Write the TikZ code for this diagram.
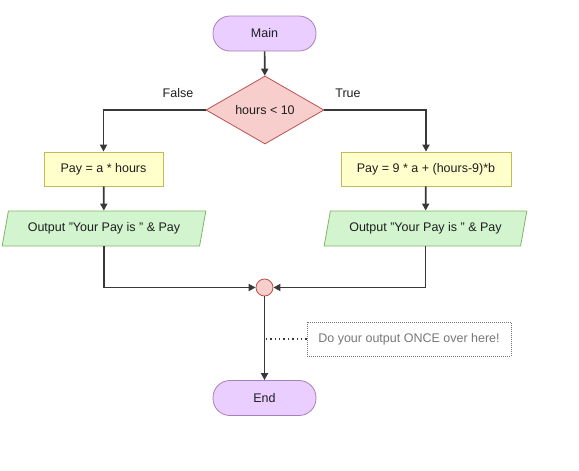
\documentclass[tikz,border=0pt]{standalone}
\usepackage{fontspec}
\setmainfont{Liberation Sans}
\usetikzlibrary{shapes.geometric,arrows.meta}
\definecolor{termfill}{HTML}{EACEFF}
\definecolor{termdraw}{HTML}{A680B8}
\definecolor{decfill}{HTML}{F8CECC}
\definecolor{decdraw}{HTML}{B85450}
\definecolor{procfill}{HTML}{FFFFCC}
\definecolor{procdraw}{HTML}{C8B85A}
\definecolor{iofill}{HTML}{D2F5CF}
\definecolor{iodraw}{HTML}{82B366}
\definecolor{linec}{HTML}{383838}
\definecolor{txt}{HTML}{1E1E1E}
\definecolor{notec}{HTML}{777777}
\tikzset{
  every node/.style={font=\fontsize{12.5}{14}\selectfont, text=txt},
  term/.style={rectangle, rounded corners=17pt, minimum width=103pt, minimum height=35pt, fill=termfill, draw=termdraw, line width=0.8pt},
  dec/.style={diamond, aspect=1.735, inner sep=0pt, minimum width=118pt, minimum height=68pt, fill=decfill, draw=decdraw, line width=0.8pt},
  proc/.style={rectangle, minimum height=34pt, fill=procfill, draw=procdraw, line width=0.8pt},
  io/.style={trapezium, trapezium left angle=66.8, trapezium right angle=113.2, trapezium stretches=true, minimum height=35pt, minimum width=204pt, inner sep=0pt, fill=iofill, draw=iodraw, line width=0.8pt},
  junc/.style={circle, minimum size=17pt, inner sep=0pt, fill=decfill, draw=decdraw, line width=0.8pt},
  note/.style={rectangle, minimum width=204pt, minimum height=34pt, draw=notec, dash pattern=on 1pt off 1pt, line width=0.6pt, text=notec},
  arr/.style={draw=linec, line width=1.7pt, -{Triangle[length=7pt,width=7pt]}},
}
\begin{document}
\begin{tikzpicture}[x=1pt,y=-1pt]
\useasboundingbox (0,0) rectangle (579,471);
\node[term] (main) at (264.5,33.5) {Main};
\node[dec] (dec) at (265,110) {hours < 10};
\node (flab) at (178,93) {False};
\node (tlab) at (348,93) {True};
\node[proc, minimum width=119pt] (pay1) at (103.5,169) {Pay = a * hours};
\node[proc, minimum width=170pt] (pay2) at (426,169) {Pay = 9 * a + (hours-9)*b};
\node[io] (out1) at (104,228.5) {Output "Your Pay is " \& Pay};
\node[io, minimum width=203pt] (out2) at (425.5,228.5) {Output "Your Pay is " \& Pay};
\node[junc] (jn) at (264.5,287.5) {};
\node[note] (nt) at (409,339) {Do your output ONCE over here!};
\node[term] (end) at (264.5,398) {End};
\coordinate (ntend) at (264.5,339);
\draw[arr] (main) -- (dec);
\draw[arr] (dec.west) -| (pay1.north);
\draw[arr] (dec.east) -| (pay2.north);
\draw[arr] (pay1) -- (out1);
\draw[arr] (pay2) -- (out2);
\draw[arr] (out1.south) |- (jn.west);
\draw[arr] (out2.south) |- (jn.east);
\draw[arr] (jn) -- (end);
\draw[draw=linec, line width=1.3pt, dash pattern=on 1.4pt off 3pt] (nt.west) -- (ntend);
\end{tikzpicture}
\end{document}
